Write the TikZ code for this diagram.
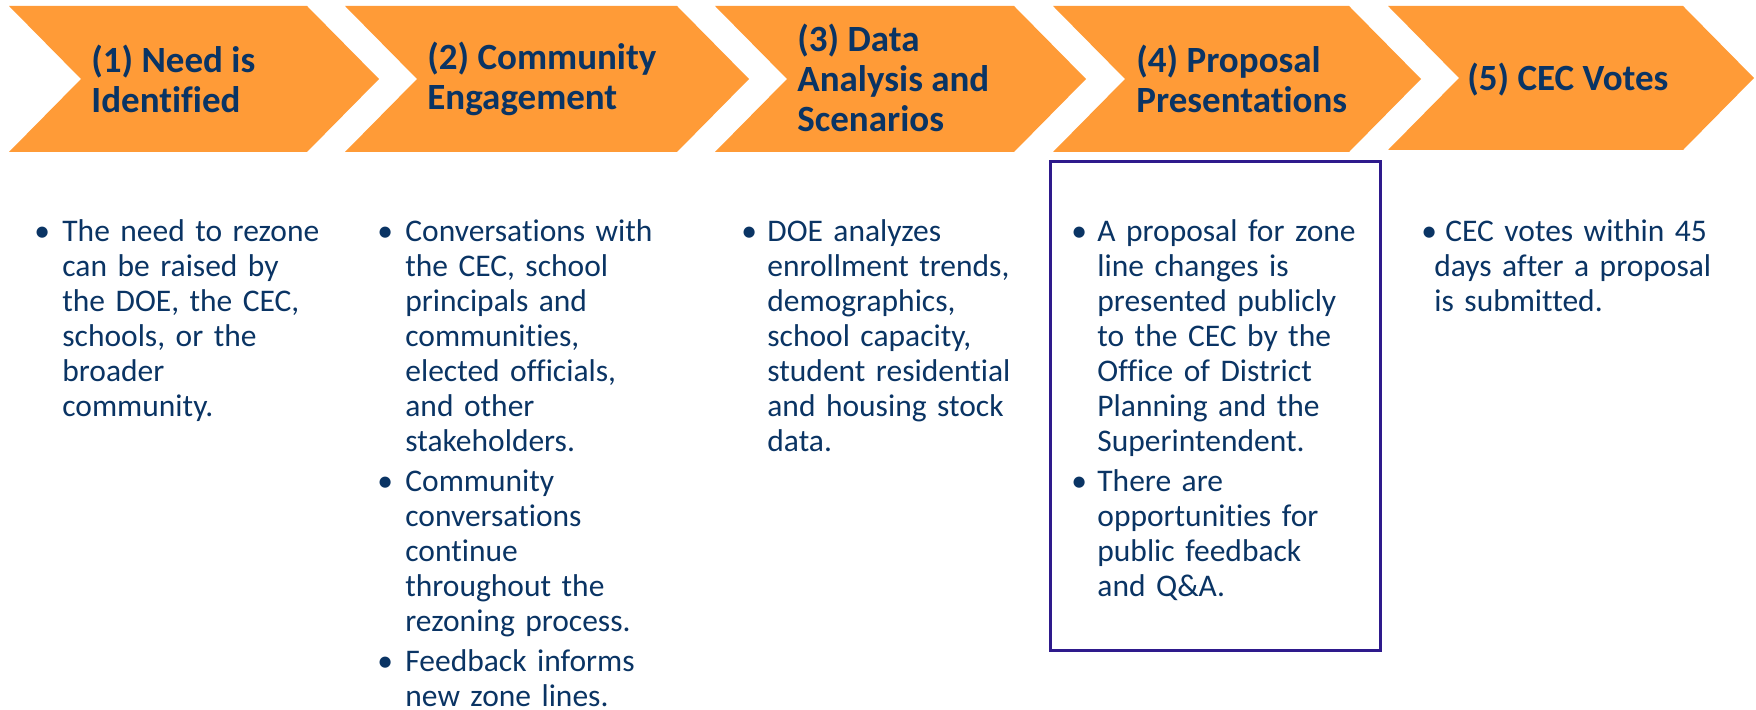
\documentclass[tikz,border=0pt]{standalone}
\usepackage{fontspec}
\setmainfont{Carlito}[Ligatures=NoCommon]
\usepackage{tikz}
\usepackage{xcolor}
\definecolor{chevorange}{RGB}{255,155,55}
\definecolor{textnavy}{RGB}{10,52,100}
\definecolor{framepurple}{RGB}{46,26,140}
\newcommand{\bul}[2][10pt]{\par\hangindent=#1\hangafter=1\noindent\strut\makebox[#1][l]{\hspace{-4pt}\textbullet}#2\par}

\begin{document}
\begin{tikzpicture}[x=0.5pt,y=-0.5pt,
    chev/.style={fill=chevorange},
    title/.style={anchor=west,inner sep=0,align=left,text=textnavy,font=\fontsize{18.5}{20}\selectfont\bfseries},
    desc/.style={anchor=north west,inner sep=0,text width=150pt,align=left,text=textnavy,font=\fontsize{15.75}{17.5}\selectfont\setlength{\parskip}{2.5pt}},
    frame/.style={draw=framepurple,line width=1.5pt,minimum width=165pt,minimum height=244pt,inner sep=0}]
        \useasboundingbox (0,0) rectangle (1756,710);

        \fill[chev] (9,6) -- (307,6) -- (379,79) -- (307,152) -- (9,152) -- (81,79) -- cycle;
        \fill[chev] (345,6) -- (677,6) -- (749,79) -- (677,152) -- (345,152) -- (417,79) -- cycle;
        \fill[chev] (715,6) -- (1014,6) -- (1086,79) -- (1014,152) -- (715,152) -- (787,79) -- cycle;
        \fill[chev] (1053,6) -- (1349,6) -- (1421,79) -- (1349,152) -- (1053,152) -- (1125,79) -- cycle;
        \fill[chev] (1388,6) -- (1683,6) -- (1754,78) -- (1683,150) -- (1388,150) -- (1459,78) -- cycle;

        \node[title] (need) at (91,78.5) {(1) Need is\\Identified};
        \node[title] (engage) at (427,78.5) {(2) Community\\Engagement};
        \node[title] (data) at (797,78) {(3) Data\\Analysis and\\Scenarios};
        \node[title] (proposal) at (1136,78.5) {(4) Proposal\\Presentations};
        \node[title] (votes) at (1467,79.5) {(5) CEC Votes};

        \node[frame] (propframe) at (1215,406) {};

        \node[desc] (needtext) at (42,201.5) {\bul{The need to rezone\newline can be raised by\newline the DOE, the CEC,\newline schools, or the\newline broader\newline community.}};
        \node[desc] (engagetext) at (385,201.5) {\bul{Conversations with\newline the CEC, school\newline principals and\newline communities,\newline elected officials,\newline and other\newline stakeholders.}\bul{Community\newline conversations\newline continue\newline throughout the\newline rezoning process.}\bul{Feedback informs\newline new zone lines.}};
        \node[desc] (datatext) at (749,201.5) {\bul[9pt]{DOE analyzes\newline enrollment trends,\newline demographics,\newline school capacity,\newline student residential\newline and housing stock\newline data.}};
        \node[desc] (proposaltext) at (1079,201.5) {\bul[9pt]{A proposal for zone\newline line changes is\newline presented publicly\newline to the CEC by the\newline Office of District\newline Planning and the\newline Superintendent.}\bul[9pt]{There are\newline opportunities for\newline public feedback\newline and Q\&A.}};
        \node[desc] (votestext) at (1429,201.5) {\par\hangindent=2.5pt\hangafter=1\noindent\strut\makebox[8pt][l]{\hspace{-4pt}\textbullet}CEC votes within 45\newline days after a proposal\newline is submitted.\par};
    \end{tikzpicture}
\end{document}
